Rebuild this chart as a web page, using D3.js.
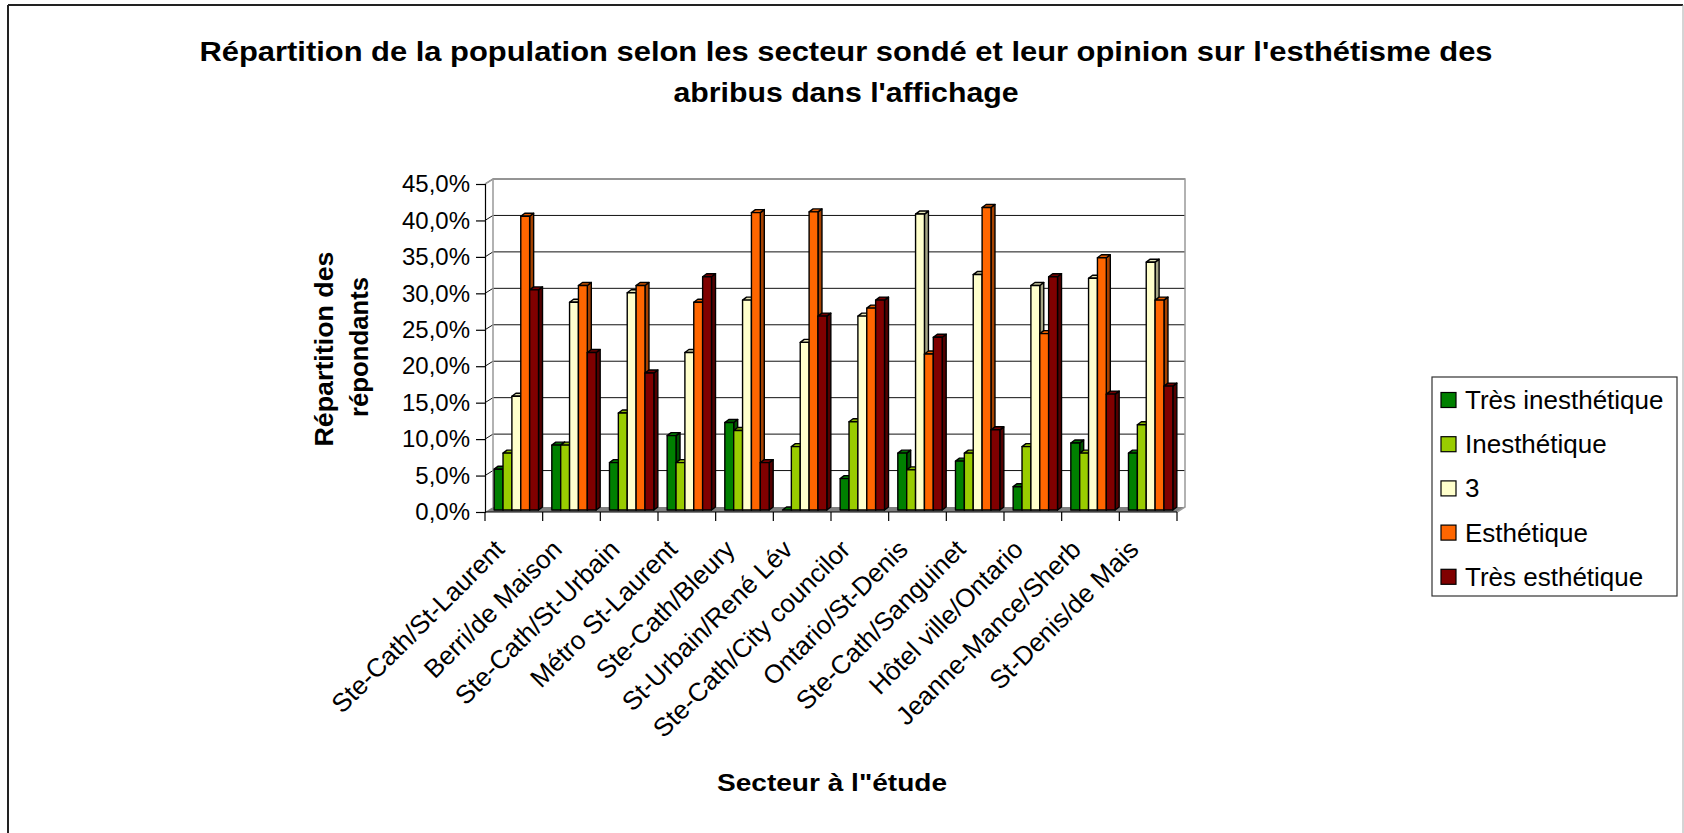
<!DOCTYPE html>
<head>
  <meta charset="utf-8">
  <script src="https://d3js.org/d3.v7.min.js"></script>
  <style>
    body { margin: 0; background: #fff; }
    text { font-family: "Liberation Sans", Arial, sans-serif; fill: #000; }
  </style>
</head>

<body>
  <svg width="1684" height="833"></svg>

  <script>

  // data
  var secteurs = ["Ste-Cath/St-Laurent", "Berri/de Maison", "Ste-Cath/St-Urbain", "Métro St-Laurent",
    "Ste-Cath/Bleury", "St-Urbain/René Lév", "Ste-Cath/City councilor", "Ontario/St-Denis",
    "Ste-Cath/Sanguinet", "Hôtel ville/Ontario", "Jeanne-Mance/Sherb", "St-Denis/de Mais"];

  var opinions = ["Très inesthétique", "Inesthétique", "3", "Esthétique", "Très esthétique"];

  var tresInesthetique = [5.6, 8.9, 6.5, 10.2, 12.0, 0.0, 4.3, 7.8, 6.7, 3.2, 9.2, 7.8];
  var inesthetique     = [7.8, 8.9, 13.3, 6.5, 10.9, 8.7, 12.1, 5.5, 7.8, 8.7, 7.8, 11.7];
  var neutre           = [15.6, 28.5, 29.8, 21.6, 28.8, 23.0, 26.6, 40.6, 32.3, 30.8, 31.8, 34.0];
  var esthetique       = [40.3, 30.8, 30.8, 28.5, 40.8, 40.9, 27.7, 21.4, 41.5, 24.2, 34.6, 28.8];
  var tresEsthetique   = [30.2, 21.6, 18.8, 32.0, 6.5, 26.6, 28.8, 23.7, 11.0, 32.0, 15.9, 17.0];

  var yTicks = [0, 5, 10, 15, 20, 25, 30, 35, 40, 45];

  var couleurs = ["#008000", "#99CC00", "#FFFFCC", "#FF6600", "#800000"];

  var series = [tresInesthetique, inesthetique, neutre, esthetique, tresEsthetique];

  var svg = d3.select("svg");

  // 3D offsets
  var wallDx = 8, wallDy = -5;     // back wall
  var barDx = 2.5, barDy = -2;     // plane of bar fronts
  var depthDx = 4, depthDy = -3;   // bar thickness

  var x = d3.scaleBand().domain(secteurs).range([485, 1177]).padding(0);
  var xs = d3.scaleBand().domain(opinions).range([0, x.bandwidth()]).paddingInner(0).paddingOuter(0.75);
  var y = d3.scaleLinear().domain([0, 45]).range([512, 184]);
  var color = d3.scaleOrdinal().domain(opinions).range(couleurs);

  var x0 = x.range()[0], x1 = x.range()[1];

  // outer border
  svg.append("line").attr("x1", 8).attr("y1", 5).attr("x2", 1683).attr("y2", 5)
    .attr("stroke", "#222").attr("stroke-width", 2);
  svg.append("line").attr("x1", 8).attr("y1", 5).attr("x2", 8).attr("y2", 833)
    .attr("stroke", "#222").attr("stroke-width", 2);
  svg.append("line").attr("x1", 1683).attr("y1", 5).attr("x2", 1683).attr("y2", 833)
    .attr("stroke", "#aaa").attr("stroke-width", 1);

  // title
  var title = svg.append("g").attr("font-weight", "bold").attr("font-size", 27).attr("text-anchor", "middle");
  title.append("text").attr("x", 846).attr("y", 61)
    .attr("textLength", 1293).attr("lengthAdjust", "spacingAndGlyphs")
    .text("Répartition de la population selon les secteur sondé et leur opinion sur l'esthétisme des");
  title.append("text").attr("x", 846).attr("y", 102)
    .attr("textLength", 345).attr("lengthAdjust", "spacingAndGlyphs")
    .text("abribus dans l'affichage");

  // walls
  var walls = svg.append("g");

  walls.append("polygon")
    .attr("points", [[x0, y(0)], [x1, y(0)], [x1 + wallDx, y(0) + wallDy], [x0 + wallDx, y(0) + wallDy]].join(" "))
    .attr("fill", "#808080");

  yTicks.slice(1).forEach(function(v) {
    walls.append("line")
      .attr("x1", x0 + wallDx).attr("x2", x1 + wallDx)
      .attr("y1", y(v) + wallDy).attr("y2", y(v) + wallDy)
      .attr("stroke", "#111").attr("stroke-width", 1);
    walls.append("line")
      .attr("x1", x0).attr("x2", x0 + wallDx)
      .attr("y1", y(v)).attr("y2", y(v) + wallDy)
      .attr("stroke", "#111").attr("stroke-width", 1);
  });

  walls.append("polyline")
    .attr("points", [[x0, y(45)], [x0 + wallDx, y(45) + wallDy], [x1 + wallDx, y(45) + wallDy], [x1 + wallDx, y(0) + wallDy], [x1, y(0)]].join(" "))
    .attr("fill", "none").attr("stroke", "#999").attr("stroke-width", 1.5);
  walls.append("line")
    .attr("x1", x0 + wallDx).attr("x2", x0 + wallDx)
    .attr("y1", y(45) + wallDy).attr("y2", y(0) + wallDy)
    .attr("stroke", "#999").attr("stroke-width", 1.5);

  // bars
  var bars = svg.append("g").attr("stroke", "#000").attr("stroke-width", 1.4).attr("stroke-linejoin", "round");

  secteurs.forEach(function(s, i) {
    opinions.forEach(function(o, j) {
      var v = series[j][i];
      var bx = x(s) + xs(o) + barDx;
      var bw = xs.bandwidth();
      var yt = y(v) + barDy;
      var yb = y(0) + barDy;
      var c = d3.color(color(o));

      bars.append("polygon")
        .attr("points", [[bx + bw, yt], [bx + bw + depthDx, yt + depthDy], [bx + bw + depthDx, yb + depthDy], [bx + bw, yb]].join(" "))
        .attr("fill", c.darker(1.2));
      bars.append("polygon")
        .attr("points", [[bx, yt], [bx + bw, yt], [bx + bw + depthDx, yt + depthDy], [bx + depthDx, yt + depthDy]].join(" "))
        .attr("fill", c.darker(0.3));
      bars.append("rect")
        .attr("x", bx).attr("y", yt)
        .attr("width", bw).attr("height", yb - yt)
        .attr("fill", c);
    });
  });

  // y axis
  var yAxis = svg.append("g")
    .attr("transform", "translate(" + x0 + ",0)")
    .call(d3.axisLeft(y).tickValues(yTicks).tickSize(9).tickPadding(6)
      .tickFormat(function(d) { return d3.format(".1f")(d).replace(".", ",") + "%"; }));
  yAxis.select(".domain").attr("stroke", "#000").attr("stroke-width", 1.2);
  yAxis.selectAll(".tick line").attr("stroke", "#000").attr("stroke-width", 1.2);
  yAxis.selectAll("text").attr("font-size", 24).attr("font-family", "Liberation Sans, Arial, sans-serif")
    .attr("fill", "#000");

  // x axis
  var xAxis = svg.append("g")
    .attr("transform", "translate(0," + y(0) + ")");
  xAxis.append("line").attr("x1", x0).attr("x2", x1).attr("stroke", "#000").attr("stroke-width", 1.2);
  xAxis.selectAll(".sep")
    .data(secteurs.concat(["__end"]))
    .enter().append("line")
    .attr("x1", function(d, i) { return x0 + i * x.step(); })
    .attr("x2", function(d, i) { return x0 + i * x.step(); })
    .attr("y1", 0).attr("y2", 9)
    .attr("stroke", "#000").attr("stroke-width", 1.2);

  xAxis.selectAll(".lab")
    .data(secteurs)
    .enter().append("text")
    .attr("font-size", 26)
    .attr("text-anchor", "end")
    .attr("transform", function(d) {
      return "translate(" + (x(d) + x.bandwidth() / 2 - 8) + ",39) rotate(-45)";
    })
    .text(function(d) { return d; });

  // axis titles
  var yTitle = svg.append("g").attr("font-weight", "bold").attr("font-size", 25).attr("text-anchor", "middle");
  yTitle.append("text")
    .attr("transform", "translate(333,349) rotate(-90)")
    .attr("textLength", 195).attr("lengthAdjust", "spacingAndGlyphs")
    .text("Répartition des");
  yTitle.append("text")
    .attr("transform", "translate(368,347) rotate(-90)")
    .attr("textLength", 140).attr("lengthAdjust", "spacingAndGlyphs")
    .text("répondants");

  svg.append("text")
    .attr("x", 832).attr("y", 791)
    .attr("font-weight", "bold").attr("font-size", 24).attr("text-anchor", "middle")
    .attr("textLength", 230).attr("lengthAdjust", "spacingAndGlyphs")
    .text("Secteur à l\"étude");

  // legend
  var legend = svg.append("g").attr("transform", "translate(1432,377)");
  legend.append("rect").attr("width", 245).attr("height", 219)
    .attr("fill", "#fff").attr("stroke", "#333").attr("stroke-width", 1.2);

  var item = legend.selectAll(".item")
    .data(opinions)
    .enter().append("g")
    .attr("transform", function(d, i) { return "translate(9," + (23 + i * 44.2) + ")"; });

  item.append("rect")
    .attr("x", 0).attr("y", -7.5).attr("width", 15).attr("height", 15)
    .attr("fill", color).attr("stroke", "#000").attr("stroke-width", 1.2);

  item.append("text")
    .attr("x", 24).attr("y", 9)
    .attr("font-size", 26)
    .text(function(d) { return d; });

  </script>
</body>
